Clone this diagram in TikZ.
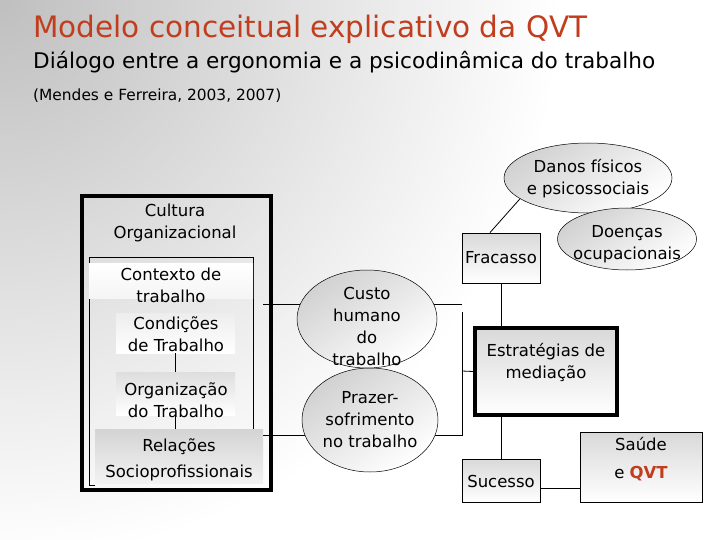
\documentclass[tikz,border=0pt]{standalone}
\usepackage{fontspec}
\setmainfont{DejaVu Sans}
\usetikzlibrary{shapes.geometric,calc}
\definecolor{titlered}{RGB}{192,62,30}
\pgfdeclarelayer{bgl}
\pgfdeclarelayer{lines}
\pgfsetlayers{bgl,lines,main}
\begin{document}
\begin{tikzpicture}[x=1pt,y=1pt,
  txt/.style={font=\fontsize{16.5}{22}\selectfont, align=center, inner sep=0pt},
  conn/.style={draw=black, line width=0.8pt},
  gbox/.style={draw=black, line width=0.8pt, top color=black!15, bottom color=white, inner sep=0pt},
  lbl/.style={top color=black!10, bottom color=white, inner sep=0pt},
  ell/.style={ellipse, draw=black, line width=0.5pt, top color=black!18, bottom color=white, shading angle=35, inner sep=0pt},
]
\useasboundingbox (0,0) rectangle (720,-540);
\begin{pgfonlayer}{bgl}
\begin{scope}
\clip (0,0) rectangle (720,-540);
\fill[white] (0,0) rectangle (720,-540);
\shade[inner color=black!25, outer color=white] (0,0) circle (560);
\end{scope}
\end{pgfonlayer}

% titles
\node[anchor=base west, inner sep=0, text=titlered, font=\fontsize{29.5}{32}\selectfont] (title) at (33,-38) {Modelo conceitual explicativo da QVT};
\node[anchor=base west, inner sep=0, font=\fontsize{21.6}{24}\selectfont] (subtitle) at (33,-69) {Diálogo entre a ergonomia e a psicodinâmica do trabalho};
\node[anchor=base west, inner sep=0, font=\fontsize{15.4}{18}\selectfont] (cite) at (33,-101) {(Mendes e Ferreira, 2003, 2007)};

% left block
\node[draw=black, line width=4pt, minimum width=189pt, minimum height=294pt, inner sep=0] (cultura) at (176.5,-343) {};
\node[txt] (culturatxt) at (175,-223) {Cultura\\Organizacional};
\draw[conn] (95,-485) -- (89,-485) -- (89,-257) -- (253,-257) -- (253,-429);
\node[lbl, top color=white, bottom color=black!4, minimum width=164pt, minimum height=35pt] (ctxbox) at (171,-280.5) {};
\node[lbl, top color=black!7, minimum width=119pt, minimum height=40pt] (condbox) at (175.5,-333) {};
\node[lbl, top color=black!13, minimum width=119pt, minimum height=43pt] (orgbox) at (175.5,-393.5) {};
\node[lbl, top color=black!17, bottom color=black!5, minimum width=168pt, minimum height=54pt] (relbox) at (179,-456) {};
\node[txt] (ctxtxt) at (171,-285) {Contexto de\\trabalho};
\node[txt] (condtxt) at (176,-334) {Condições\\de Trabalho};
\node[txt] (orgtxt) at (176,-400) {Organização\\do Trabalho};
\node[txt] (reltxt) at (179,-460) {Relações\\[4pt]Socioprofissionais};
\draw[conn] (condbox) -- (orgbox);
\draw[conn] (orgbox.south) -- (orgbox.south |- relbox.north);

% middle ellipses
\node[ell, minimum width=136pt, minimum height=104pt] (prazer) at (370,-420) {};
\node[ell, minimum width=140pt, minimum height=98pt] (custo) at (367,-319) {};
\node[txt] (custotxt) at (367,-326) {Custo\\humano\\do\\trabalho};
\node[txt] (prazertxt) at (370,-420) {Prazer-\\sofrimento\\no trabalho};

\coordinate (l1) at (263,-304);
\coordinate (r1) at (462,-304);
\coordinate (l2) at (263,-435);
\coordinate (r2) at (462,-435);
\coordinate (v1) at (462,-312);
\coordinate (v2) at (462,-436);
\coordinate (m) at (462,-371);
\coordinate (y488) at (0,-488);

% right side
\node[ell, minimum width=168pt, minimum height=70pt] (danos) at (588,-178) {};
\node[txt] (danostxt) at (588,-179) {Danos físicos\\e psicossociais};
\node[ell, minimum width=139pt, minimum height=62pt] (doencas) at (627,-239) {};
\node[txt] (doencastxt) at (627,-244) {Doenças\\ocupacionais};
\node[gbox, minimum width=78pt, minimum height=50pt] (fracasso) at (501,-258) {};
\node[txt] (fracassotxt) at (501,-258) {Fracasso};
\node[gbox, line width=4pt, minimum width=142pt, minimum height=87pt] (estr) at (546,-371.5) {};
\node[txt] (estrtxt) at (546,-362) {Estratégias de\\mediação};
\node[gbox, minimum width=78pt, minimum height=43pt] (sucesso) at (501,-480.5) {};
\node[txt] (sucessotxt) at (501,-481) {Sucesso};
\node[gbox, minimum width=122pt, minimum height=70pt] (saude) at (641,-467) {};
\node[txt] (saudetxt) at (641,-459) {Saúde\\[6pt]e {\color{titlered}\bfseries QVT}};

\begin{pgfonlayer}{lines}
\draw[conn] (l1) -- (r1);
\draw[conn] (l2) -- (r2);
\draw[conn] (v1) -- (v2);
\draw[conn] (m) -- (estr.west);
\draw[conn] ($(fracasso.north west)!0.36!(fracasso.north east)$) -- (danos.197);
\draw[conn] (fracasso.south) -- (fracasso.south |- estr.north);
\draw[conn] (sucesso.north |- estr.south) -- (sucesso.north);
\draw[conn] (sucesso.east |- y488) -- (saude.west |- y488);
\end{pgfonlayer}
\end{tikzpicture}
\end{document}
